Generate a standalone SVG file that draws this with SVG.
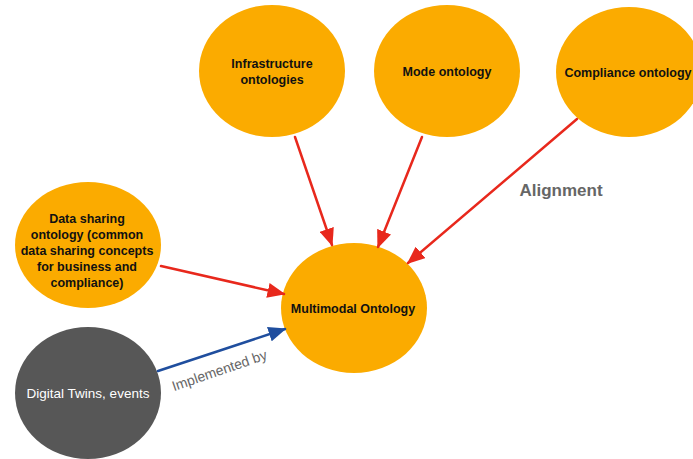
<svg xmlns="http://www.w3.org/2000/svg" width="693" height="459" viewBox="0 0 693 459">
<style>
.node{fill:#fbab00}
.dark{fill:#575757}
.lbl{font-family:"Liberation Sans",Arial,sans-serif;font-size:12.5px;font-weight:bold;fill:#111;text-anchor:middle}
.wl{fill:#ffffff;font-weight:normal;font-size:13.5px}
.edge{stroke-width:2.5;fill:none;stroke-linecap:round}
.red{stroke:#e8281c}
.blue{stroke:#1f4e9e}
.elbl{font-family:"Liberation Sans",Arial,sans-serif;fill:#666666}
</style>
<defs>
<marker id="ar" viewBox="0 0 12 10" refX="11" refY="5" markerWidth="7.2" markerHeight="6" markerUnits="strokeWidth" orient="auto"><path d="M0,0 L12,5 L0,10 z" fill="#e8281c"/></marker>
<marker id="ab" viewBox="0 0 12 10" refX="11" refY="5" markerWidth="7.2" markerHeight="6" markerUnits="strokeWidth" orient="auto"><path d="M0,0 L12,5 L0,10 z" fill="#1f4e9e"/></marker>
</defs>
<rect width="693" height="459" fill="#ffffff"/>
<g id="infrastructure"><ellipse class="node" cx="272" cy="71" rx="73" ry="66"/><text class="lbl" x="272" y="68">Infrastructure</text><text class="lbl" x="272" y="84">ontologies</text></g>
<g id="mode"><ellipse class="node" cx="447" cy="71" rx="73" ry="66"/><text class="lbl" x="447" y="76">Mode ontology</text></g>
<g id="compliance"><ellipse class="node" cx="629" cy="72" rx="73" ry="65"/><text class="lbl" x="628" y="77">Compliance ontology</text></g>
<g id="datasharing"><ellipse class="node" cx="88" cy="245" rx="73" ry="63"/><text class="lbl" x="87" y="223">Data sharing</text><text class="lbl" x="87" y="239">ontology (common</text><text class="lbl" x="87" y="255">data sharing concepts</text><text class="lbl" x="87" y="271">for business and</text><text class="lbl" x="87" y="287">compliance)</text></g>
<g id="multimodal"><ellipse class="node" cx="354" cy="308" rx="73" ry="65"/><text class="lbl" x="353" y="313">Multimodal Ontology</text></g>
<g id="digitaltwins"><ellipse class="dark" cx="88" cy="393" rx="73" ry="66"/><text class="lbl wl" x="88" y="398">Digital Twins, events</text></g>
<g id="connectors">
<line class="edge red" x1="295" y1="137" x2="332" y2="245" marker-end="url(#ar)"/>
<line class="edge red" x1="422" y1="137" x2="378" y2="247" marker-end="url(#ar)"/>
<line class="edge red" x1="577" y1="119" x2="408" y2="263" marker-end="url(#ar)"/>
<line class="edge red" x1="161" y1="266" x2="284" y2="294" marker-end="url(#ar)"/>
<line class="edge blue" x1="158" y1="371" x2="285" y2="329" marker-end="url(#ab)"/>
<text class="elbl" x="561" y="196" font-size="17" font-weight="bold" text-anchor="middle">Alignment</text>
<text class="elbl" x="221" y="375" font-size="14" text-anchor="middle" transform="rotate(-19 221 375)">Implemented by</text>
</g>
</svg>
